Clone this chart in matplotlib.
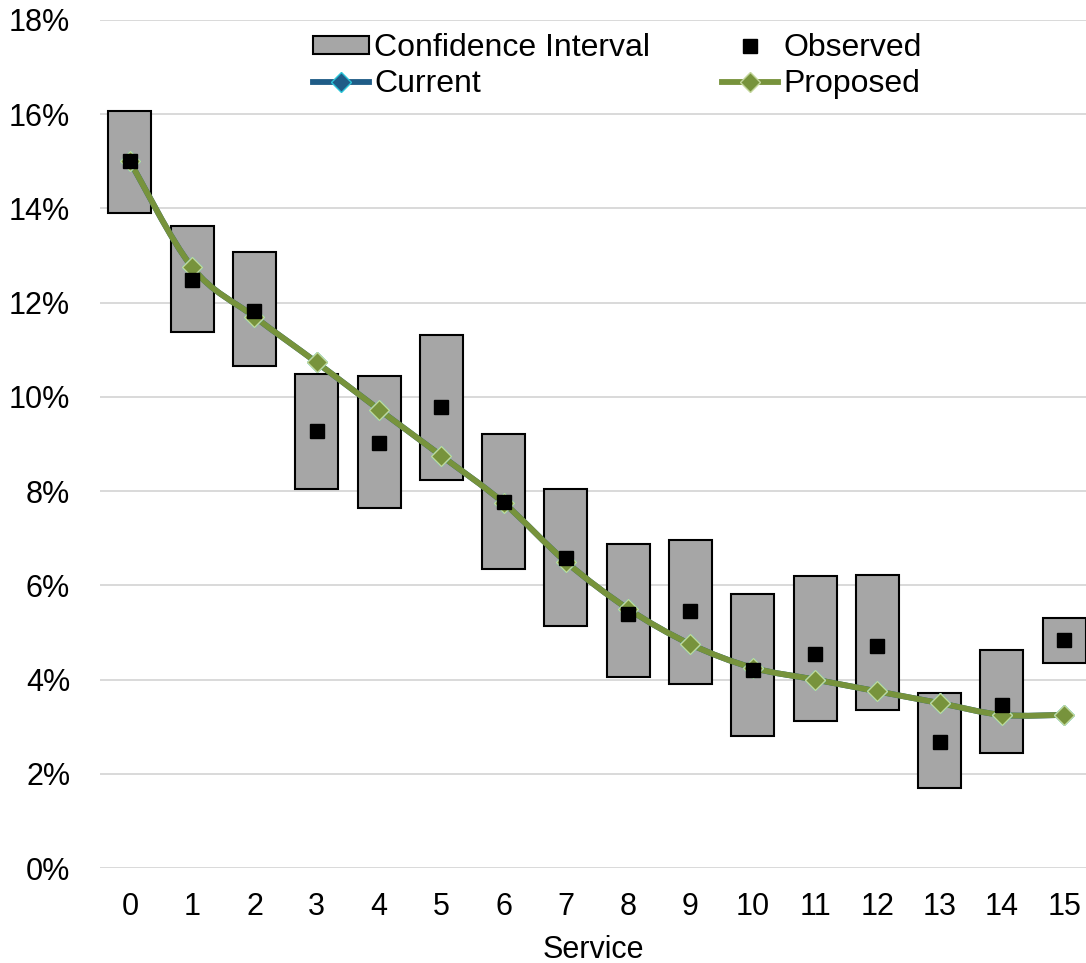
import matplotlib
matplotlib.use("Agg")
import matplotlib.pyplot as plt
from matplotlib.path import Path
from matplotlib.patches import PathPatch, Patch
from matplotlib.lines import Line2D
from matplotlib.ticker import FuncFormatter, MultipleLocator

plt.rcParams['font.family'] = ['Liberation Sans', 'DejaVu Sans']

service = list(range(16))
ci_low = [13.90, 11.38, 10.66, 8.05, 7.64, 8.24, 6.35, 5.14, 4.06, 3.91, 2.80, 3.12, 3.35, 1.70, 2.44, 4.35]
ci_high = [16.07, 13.62, 13.08, 10.49, 10.45, 11.32, 9.21, 8.05, 6.88, 6.96, 5.82, 6.20, 6.22, 3.72, 4.63, 5.31]
observed = [15.0, 12.48, 11.83, 9.28, 9.02, 9.79, 7.77, 6.58, 5.39, 5.45, 4.20, 4.54, 4.71, 2.68, 3.46, 4.84]
proposed = [15.0, 12.75, 11.70, 10.73, 9.73, 8.75, 7.75, 6.50, 5.50, 4.75, 4.25, 4.00, 3.75, 3.50, 3.25, 3.25]
current = [15.0, 12.75, 11.70, 10.73, 9.73, 8.75, 7.75, 6.50, 5.50, 4.75, 4.25, 4.00, 3.75, 3.50, 3.25, 3.25]

CUR_COLOR = '#1F5C87'
CUR_EDGE = '#2BC4D8'
PRO_COLOR = '#77933C'
PRO_EDGE = '#C3D69B'
BOX_COLOR = '#A6A6A6'
FS = 22
LFS = 23
LW = 4.2
MS = 10.5

fig = plt.figure(figsize=(10.86, 9.63), dpi=100)
ax = fig.add_axes([100/1086, 95/963, 986/1086, 848/963])


def smooth_path(xs, ys):
    pts = list(zip(xs, ys))
    n = len(pts)
    verts = [pts[0]]
    codes = [Path.MOVETO]
    for i in range(n - 1):
        p0 = pts[i - 1] if i > 0 else pts[i]
        p1 = pts[i]
        p2 = pts[i + 1]
        p3 = pts[i + 2] if i + 2 < n else pts[i + 1]
        c1 = (p1[0] + (p2[0] - p0[0]) / 6, p1[1] + (p2[1] - p0[1]) / 6)
        c2 = (p2[0] - (p3[0] - p1[0]) / 6, p2[1] - (p3[1] - p1[1]) / 6)
        verts += [c1, c2, p2]
        codes += [Path.CURVE4] * 3
    return Path(verts, codes)


heights = [h - l for h, l in zip(ci_high, ci_low)]
ax.bar(service, heights, bottom=ci_low, width=0.69, color=BOX_COLOR,
       edgecolor='black', linewidth=1.5, zorder=2)

for vals, col, edge in [(current, CUR_COLOR, CUR_EDGE), (proposed, PRO_COLOR, PRO_EDGE)]:
    ax.add_patch(PathPatch(smooth_path(service, vals), fill=False, edgecolor=col,
                           linewidth=LW, capstyle='round', joinstyle='round', zorder=3))
    ax.plot(service, vals, linestyle='none', marker='D', markersize=MS,
            markerfacecolor=col, markeredgecolor=edge, markeredgewidth=1.0, zorder=4)

ax.plot(service, observed, linestyle='none', marker='s', markersize=10.5,
        color='black', zorder=5)

ax.set_xlim(-0.48, 15.35)
ax.set_ylim(0, 18)
ax.yaxis.set_major_locator(MultipleLocator(2))
ax.yaxis.set_major_formatter(FuncFormatter(lambda v, p: f"{v:.0f}%"))
ax.set_xticks(service)
ax.grid(axis='y', color='#D9D9D9', linewidth=1.4, zorder=0)
ax.set_axisbelow(True)
for s in ax.spines.values():
    s.set_visible(False)
ax.tick_params(axis='both', length=0, labelsize=FS, colors='black')
ax.tick_params(axis='y', pad=21.5)
ax.tick_params(axis='x', pad=17)
ax.set_xlabel('Service', fontsize=FS, labelpad=9.5)

h_ci = Patch(facecolor=BOX_COLOR, edgecolor='black', linewidth=1.5)
h_cur = Line2D([], [], color=CUR_COLOR, lw=LW, marker='D', markersize=MS,
               markerfacecolor=CUR_COLOR, markeredgecolor=CUR_EDGE)
h_obs = Line2D([], [], linestyle='none', marker='s', markersize=10.5, color='black')
h_pro = Line2D([], [], color=PRO_COLOR, lw=LW, marker='D', markersize=MS,
               markerfacecolor=PRO_COLOR, markeredgecolor=PRO_EDGE)

common = dict(loc='upper left', bbox_transform=fig.transFigure, frameon=False,
              fontsize=LFS, handlelength=1.75, handletextpad=0.17, handleheight=0.5,
              labelspacing=0.17, borderpad=0, borderaxespad=0)
leg1 = ax.legend([h_ci, h_cur], ['Confidence Interval', 'Current'],
                 bbox_to_anchor=(313/1086, 1 - 33.5/963), **common)
ax.add_artist(leg1)
leg2 = ax.legend([h_obs, h_pro], ['Observed', 'Proposed'],
                 bbox_to_anchor=(722/1086, 1 - 33.5/963), **common)

fig.savefig('out.png', dpi=100)
